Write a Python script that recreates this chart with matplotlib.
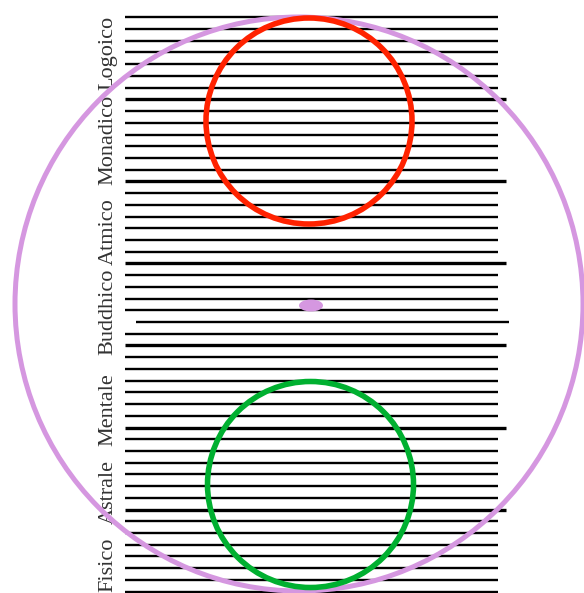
import matplotlib
matplotlib.use("Agg")
import matplotlib.pyplot as plt
from matplotlib.patches import Ellipse, Circle

# piani, dal basso verso l'alto
piani = ["Fisico", "Astrale", "Mentale", "Buddhico", "Atmico", "Monadico", "Logoico"]
n_righe = 50
righe_spesse = [7, 14, 21, 28, 35, 42]     # righe di confine tra i piani
righe_lunghe = [7, 14, 21, 26, 28, 35, 42]  # righe che sporgono a destra
riga_rientrata = 26

# layout in pixel (origine in alto a sinistra)
W, H = 584, 593
y0, passo = 17.3, 11.72
x_start, x_end, x_end_lungo = 125, 498, 506
label_y = [565, 492, 410, 312, 232, 140, 53]

fig = plt.figure(figsize=(W / 100, H / 100), dpi=100)
ax = fig.add_axes([0, 0, 1, 1])
ax.set_xlim(0, W)
ax.set_ylim(H, 0)
ax.axis("off")

for i in range(n_righe):
    y = y0 + i * passo
    xs = 136 if i == riga_rientrata else x_start
    xe = x_end_lungo if i in righe_lunghe else x_end
    if i == riga_rientrata:
        xe = 509
    lw = 2.4 if i in righe_spesse else 1.7
    ax.plot([xs, xe], [y, y], color="black", lw=lw, solid_capstyle="butt", zorder=1)

for nome, yl in zip(piani, label_y):
    ax.text(108, yl, nome, rotation=90, ha="center", va="center",
            fontsize=16, family="Liberation Serif", color="#333333")

ax.add_patch(Ellipse((299, 304), 568, 574, fill=False, ec="#d597e0", lw=3.6, zorder=3))
ax.add_patch(Circle((309, 121), 103, fill=False, ec="#ff2200", lw=4, zorder=3))
ax.add_patch(Circle((310.5, 484.5), 103, fill=False, ec="#00b030", lw=4, zorder=3))
ax.add_patch(Ellipse((311, 305.5), 24, 12, fc="#d597e0", ec="none", zorder=3))

fig.savefig("out.png", dpi=100)
